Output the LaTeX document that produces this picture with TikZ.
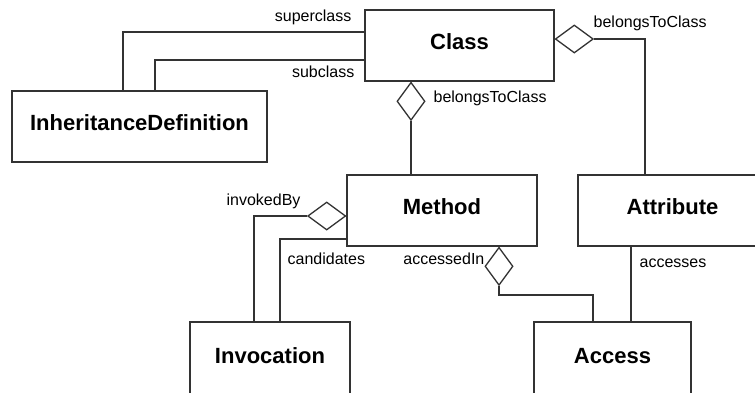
\documentclass[tikz,border=0pt]{standalone}
\usepackage{fontspec}
\setmainfont{Liberation Sans}
\usepackage{tikz}
\usetikzlibrary{positioning,shapes.geometric}

\begin{document}
\begin{tikzpicture}[x=1pt, y=-1pt, line width=1.3pt, draw=black!80, cls/.style={draw, minimum height=71pt, inner sep=0pt, text height=16pt, text depth=8pt, font=\fontsize{22}{26}\selectfont\bfseries}, low/.style={minimum height=80pt, text depth=13pt}, hdia/.style={draw, diamond, fill=white, inner sep=0pt, minimum width=38pt, minimum height=28pt}, vdia/.style={draw, diamond, fill=white, inner sep=0pt, minimum width=28pt, minimum height=38pt}, role/.style={inner sep=0pt, font=\fontsize{16}{19}\selectfont}]
\useasboundingbox (0,0) rectangle (755,392);
\clip (0,0) rectangle (755,392);
\node[cls, minimum width=189pt] (cls) at (459.5,45.5) {Class};
\node[cls, minimum width=255pt] (inh) at (139.5,126.5) {InheritanceDefinition};
\node[cls, minimum width=190pt] (meth) at (442,210.5) {Method};
\node[cls, minimum width=189pt] (attr) at (672.5,210.5) {Attribute};
\node[cls, low, minimum width=160pt] (invoc) at (270,362) {Invocation};
\node[cls, low, minimum width=157pt] (acc) at (612.5,362) {Access};
\node[hdia, anchor=west] (clsattr) at ([yshift=6.5pt]cls.east) {};
\node[vdia, anchor=north] (clsmeth) at ([xshift=-48.5pt]cls.south) {};
\node[hdia, anchor=east] (methinv) at ([yshift=-5.5pt]meth.west) {};
\node[vdia, anchor=north] (methacc) at ([xshift=57pt]meth.south) {};
\node[role, anchor=base east] (lsuper) at (352,21) {superclass};
\node[role, anchor=base east] (lsub) at (355,77) {subclass};
\node[role, anchor=base west] (lbelong1) at (593,27) {belongsToClass};
\node[role, anchor=base west] (lbelong2) at (433,102) {belongsToClass};
\node[role, anchor=base west] (linvoked) at (226,205) {invokedBy};
\node[role, anchor=base west] (lcand) at (287,264) {candidates};
\node[role, anchor=base east] (laccin) at (485,264) {accessedIn};
\node[role, anchor=base west] (laccs) at (639,267) {accesses};
\draw ([yshift=13.5pt]cls.west) -| ([xshift=-16.5pt]inh.north);
\draw ([yshift=-14.5pt]cls.west) -| ([xshift=15.5pt]inh.north);
\draw (clsattr.east) -| ([xshift=-27.5pt]attr.north);
\draw (clsmeth.south) -- (clsmeth.south |- meth.north);
\draw (methinv.west) -| ([xshift=-16pt]invoc.north);
\draw ([yshift=-28.5pt]meth.west) -| ([xshift=10pt]invoc.north);
\draw (methacc.south) -- ++(0,9) -| ([xshift=-19.5pt]acc.north);
\draw ([xshift=-41.5pt]attr.south) -- ([xshift=-41.5pt]attr.south |- acc.north);
\end{tikzpicture}
\end{document}
